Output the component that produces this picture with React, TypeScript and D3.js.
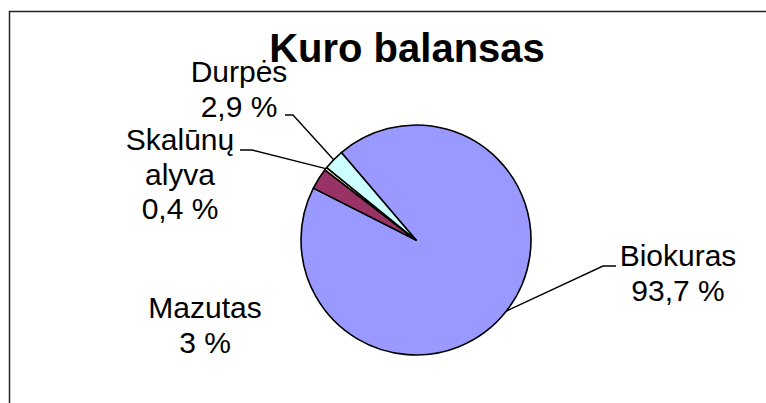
import React, { useRef, useEffect } from 'react'
import * as d3 from 'd3'

// Kuro balansas – pie chart (Excel style), drawn with d3.pie / d3.arc
const categories = ['Biokuras', 'Mazutas', 'Skalūnų alyva', 'Durpės']
const values = [93.7, 3, 0.4, 2.9]
const labelLines = [['Biokuras', '93,7 %'], ['Mazutas', '3 %'], ['Skalūnų', 'alyva', '0,4 %'], ['Durpės', '2,9 %']]
const colors = ['#9999FF', '#993366', '#FFFFCC', '#CCFFFF']

export default function App() {
  const svgRef = useRef<SVGSVGElement>(null)

  useEffect(() => {
    const svg = d3.select(svgRef.current)
    svg.selectAll('*').remove()

    const width = 766
    const height = 403
    const cx = 416
    const cy = 240
    const radius = 115
    const font = '"Liberation Sans", Arial, sans-serif'

    // cadre
    svg.append('path')
      .attr('d', `M9.5,${height} L9.5,11.5 L${width},11.5`)
      .attr('fill', 'none')
      .attr('stroke', '#222')
      .attr('stroke-width', 1.5)

    svg.append('text')
      .attr('x', 407).attr('y', 62)
      .attr('text-anchor', 'middle')
      .style('font-family', font).style('font-size', '40px').style('font-weight', 'bold')
      .text('Kuro balansas')

    const start = (-40.5 * Math.PI) / 180
    const pie = d3.pie<number>().sort(null).startAngle(start).endAngle(start + 2 * Math.PI)
    const arcs = pie(values)
    const arc = d3.arc<d3.PieArcDatum<number>>().innerRadius(0).outerRadius(radius)

    const g = svg.append('g').attr('transform', `translate(${cx},${cy})`)
    g.selectAll('path.slice')
      .data(arcs)
      .join('path')
      .attr('class', 'slice')
      .attr('d', arc)
      .attr('fill', (_, i) => colors[i])
      .attr('stroke', '#000')
      .attr('stroke-width', 1.6)
      .attr('stroke-linejoin', 'round')

    // étiquettes : position du texte + coude de la ligne de rappel
    const labelPos = [
      { x: 678, y: 266, elbow: [[603, 266], [616, 266]] },
      { x: 205, y: 318, elbow: null },
      { x: 180, y: 150, elbow: [[252, 150], [240, 150]] },
      { x: 239, y: 82, elbow: [[293, 115], [285, 115]] },
    ]

    arcs.forEach((a, i) => {
      const lp = labelPos[i]
      if (lp.elbow) {
        const mid = (a.startAngle + a.endAngle) / 2
        const ex = cx + radius * Math.sin(mid)
        const ey = cy - radius * Math.cos(mid)
        const pts = [[ex, ey], ...lp.elbow] as [number, number][]
        svg.append('path')
          .attr('d', d3.line()(pts))
          .attr('fill', 'none')
          .attr('stroke', '#000')
          .attr('stroke-width', 1.4)
      }
      const t = svg.append('text')
        .attr('text-anchor', 'middle')
        .style('font-family', font).style('font-size', '30px')
      labelLines[i].forEach((line, j) => {
        t.append('tspan').attr('x', lp.x).attr('y', lp.y + j * 34.5).text(line)
      })
    })
  }, [])

  return (
    <svg
      ref={svgRef}
      width={766}
      height={403}
      viewBox="0 0 766 403"
      style={{ position: 'absolute', left: 0, top: 0, background: '#fff' }}
      aria-label={categories.join(', ')}
    />
  )
}
